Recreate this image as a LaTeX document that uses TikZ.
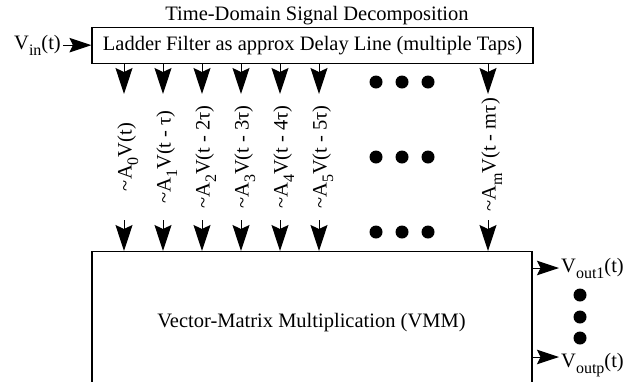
\documentclass[tikz,border=0pt]{standalone}
\usepackage{fontspec}
\setmainfont{Liberation Serif}
\usetikzlibrary{arrows.meta}
\newcommand{\mysub}[1]{\raisebox{-0.32em}{\fontsize{16}{16}\selectfont #1}}
\begin{document}
\begin{tikzpicture}[x=1pt,y=-1pt, font=\fontsize{20.5}{24}\selectfont,
  boxst/.style={draw, line width=1.1pt, inner sep=0pt},
  arr/.style={-{Stealth[length=26pt,width=17pt,inset=4pt]}, line width=1pt},
  harr/.style={-{Stealth[length=22pt,width=14.5pt,inset=3.5pt]}, line width=1pt},
  lab/.style={rotate=90, anchor=base, inner sep=0pt},
  dotst/.style={circle, fill, inner sep=0pt, minimum size=13pt},
  txt/.style={inner sep=0pt}]
\useasboundingbox (0,0) rectangle (634,381);

\node[txt, anchor=base] (title) at (317,20) {Time-Domain Signal Decomposition};
\node[boxst, minimum width=441pt, minimum height=36pt] (ladder) at (312.5,45.5) {Ladder Filter as approx Delay Line (multiple Taps)};
\node[txt, anchor=base east] (vin) at (61,49) {V\mysub{in}(t)};
\draw[harr] ([xshift=2pt]vin.east) -- (ladder.west |- vin.east);

\node[boxst, minimum width=440pt, minimum height=170pt, anchor=north] (vmm) at (312,251) {};
\node[txt, anchor=base] (vmmtext) at (311.5,327) {Vector-Matrix Multiplication (VMM)};

% taps
\foreach \i/\x in {0/124,1/163,2/202,3/241,4/280,5/319,m/488}{
  \coordinate (t\i) at (\x,94);
  \coordinate (b\i) at (\x,220);
  \draw[arr] (ladder.south -| t\i) -- (t\i);
  \draw[arr] (b\i) -- (vmm.north -| b\i);
}
\node[lab] (L0) at (131.5,157) {\textasciitilde A\mysub{0}V(t)};
\node[lab] (L1) at (170.5,157) {\textasciitilde A\mysub{1}V(t - τ)};
\node[lab] (L2) at (209.5,157) {\textasciitilde A\mysub{2}V(t - 2τ)};
\node[lab] (L3) at (248.5,157) {\textasciitilde A\mysub{3}V(t - 3τ)};
\node[lab] (L4) at (287.5,157) {\textasciitilde A\mysub{4}V(t - 4τ)};
\node[lab] (L5) at (326.5,157) {\textasciitilde A\mysub{5}V(t - 5τ)};
\node[lab] (Lm) at (495.5,155) {\textasciitilde A\mysub{m}V(t - mτ)};

% dots grid
\foreach \r/\y in {1/82,2/157,3/232}{
  \foreach \c/\x in {1/376,2/402,3/428}{
    \node[dotst] (d\r\c) at (\x,\y) {};
  }
}

% outputs
\coordinate (a1) at (559,268);
\coordinate (ap) at (559,357);
\draw[harr] (vmm.east |- a1) -- (a1);
\draw[harr] (vmm.east |- ap) -- (ap);
\node[txt, anchor=base west] (o1) at (561,272) {V\mysub{out1}(t)};
\node[txt, anchor=base west] (op) at (561,367) {V\mysub{outp}(t)};
\node[dotst] (e1) at (580,295) {};
\node[dotst] (e2) at (580,317) {};
\node[dotst] (e3) at (580,338) {};
\end{tikzpicture}
\end{document}
